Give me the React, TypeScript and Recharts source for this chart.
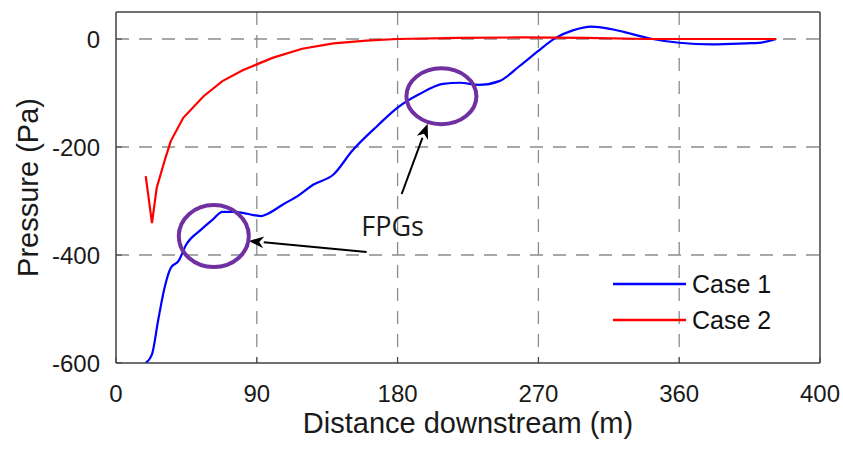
import React from "react";
import {
  LineChart, Line, XAxis, YAxis, CartesianGrid, ReferenceDot, ReferenceLine, Legend,
} from "recharts";

// Case 1 (blue) – distance (m) / pressure (Pa)
const case1X = [19, 23, 27, 31, 35, 40, 45, 54, 62, 68, 75, 81, 88, 93, 96, 107, 117, 126, 139, 151, 167, 180, 194, 209, 220, 232, 245, 258, 270, 281, 292, 304, 317, 330, 343, 360, 381, 403, 411, 422];
const case1Y = [-600, -584, -520, -461, -424, -411, -380, -354, -334, -320, -320, -322, -326, -328, -325, -306, -289, -270, -251, -207, -161, -127, -102, -83, -81, -85, -78, -50, -22, 2, 16, 23, 18, 9, 0, -7, -10, -8, -7, 0];

// Case 2 (red)
const case2X = [19, 23, 26, 31, 35, 43, 56, 68, 81, 90, 100, 119, 139, 160, 180, 220, 260, 300, 340, 380, 422];
const case2Y = [-254, -341, -276, -226, -189, -146, -106, -78, -58, -47, -35, -18, -8, -3, 0, 2, 3, 2, 0, 0, 0];

const xTicks = [0, 90, 180, 270, 360, 450];
const xTickLabels = ["0", "90", "180", "270", "360", "400"];
const yTicks = [-600, -400, -200, 0];
const xGrid = [90, 180, 270, 360];
const yGrid = [-400, -200, 0];

const seriesNames = ["Case 1", "Case 2"];
const seriesColors = ["#0000FF", "#FF0000"];

// annotations (data coordinates)
const circleCentres = [
  { x: 62.5, y: -365, rx: 35, ry: 31 },
  { x: 208, y: -106, rx: 35, ry: 28 },
];
const arrowSegments = [
  [{ x: 160.2, y: -394.5 }, { x: 84.9, y: -374 }],
  [{ x: 182.6, y: -287 }, { x: 199.2, y: -157 }],
];
const noteLabel = { x: 176.8, y: -346, text: "FPGs" };

const case1 = case1X.map((x, i) => ({ x, y: case1Y[i] }));
const case2 = case2X.map((x, i) => ({ x, y: case2Y[i] }));

const FONT = "'Liberation Sans', Arial, sans-serif";
const FRAME = "#404040";

// eslint-disable-next-line @typescript-eslint/no-explicit-any
function Arrow(props: any) {
  const { x1, y1, x2, y2 } = props;
  const ang = Math.atan2(y2 - y1, x2 - x1);
  const len = 15;
  const half = 6;
  const bx = x2 - len * Math.cos(ang);
  const by = y2 - len * Math.sin(ang);
  const px = -Math.sin(ang) * half;
  const py = Math.cos(ang) * half;
  return (
    <g>
      <line x1={x1} y1={y1} x2={bx} y2={by} stroke="#000" strokeWidth={2} />
      <polygon
        points={`${x2},${y2} ${bx + px},${by + py} ${bx + len * 0.3 * Math.cos(ang)},${by + len * 0.3 * Math.sin(ang)} ${bx - px},${by - py}`}
        fill="#000"
      />
    </g>
  );
}

function LegendBox() {
  return (
    <div style={{ fontFamily: FONT }}>
      {seriesNames.map((name, i) => (
        <div key={name} style={{ display: "flex", alignItems: "center", height: 36 }}>
          <svg width={73} height={4} style={{ marginRight: 6 }}>
            <line x1={0} y1={2} x2={73} y2={2} stroke={seriesColors[i]} strokeWidth={2.5} />
          </svg>
          <span style={{ fontSize: 25, color: "#111", lineHeight: 1 }}>{name}</span>
        </div>
      ))}
    </div>
  );
}

export default function App() {
  return (
    <div style={{ position: "absolute", left: 0, top: 0, width: 843, height: 450, background: "#fff" }}>
      <LineChart width={843} height={450} margin={{ top: 11, right: 22, bottom: 0, left: 0 }}>
        <CartesianGrid
          stroke="#8c8c8c"
          strokeWidth={1.3}
          strokeDasharray="13 10"
          horizontalValues={yGrid}
          verticalValues={xGrid}
        />
        <XAxis
          dataKey="x"
          type="number"
          domain={[0, 450]}
          ticks={xTicks}
          interval={0}
          allowDataOverflow
          height={87}
          tickSize={-6}
          tickMargin={28}
          tickFormatter={(v: number) => xTickLabels[xTicks.indexOf(v)]}
          axisLine={{ stroke: FRAME, strokeWidth: 1.5 }}
          tickLine={{ stroke: FRAME }}
          tick={{ fontSize: 24, fill: "#1a1a1a", fontFamily: FONT }}
          label={{ value: "Distance downstream (m)", position: "center", dy: 16, fontSize: 29, fill: "#1a1a1a", fontFamily: FONT }}
        />
        <XAxis
          xAxisId="top"
          orientation="top"
          type="number"
          domain={[0, 450]}
          ticks={xTicks}
          interval={0}
          height={1}
          tickSize={-6}
          tickFormatter={() => ""}
          axisLine={{ stroke: FRAME, strokeWidth: 1.5 }}
          tickLine={{ stroke: FRAME }}
        />
        <YAxis
          type="number"
          domain={[-600, 50]}
          ticks={yTicks}
          interval={0}
          allowDataOverflow
          width={116}
          tickSize={-6}
          tickMargin={22}
          axisLine={{ stroke: FRAME, strokeWidth: 1.5 }}
          tickLine={{ stroke: FRAME }}
          tick={{ fontSize: 24, fill: "#1a1a1a", fontFamily: FONT }}
          label={{ value: "Pressure (Pa)", angle: -90, position: "center", dx: -30, fontSize: 29, fill: "#1a1a1a", fontFamily: FONT }}
        />
        <YAxis
          yAxisId="right"
          orientation="right"
          type="number"
          domain={[-600, 50]}
          ticks={yTicks}
          interval={0}
          width={1}
          tickSize={-6}
          tickFormatter={() => ""}
          axisLine={{ stroke: FRAME, strokeWidth: 1.5 }}
          tickLine={{ stroke: FRAME }}
        />
        <Line
          data={case1}
          dataKey="y"
          name={seriesNames[0]}
          type="monotone"
          stroke={seriesColors[0]}
          strokeWidth={2.2}
          dot={false}
          activeDot={false}
          isAnimationActive={false}
        />
        <Line
          data={case2}
          dataKey="y"
          name={seriesNames[1]}
          type="linear"
          stroke={seriesColors[1]}
          strokeWidth={2.2}
          dot={false}
          activeDot={false}
          isAnimationActive={false}
        />
        {circleCentres.map((c, i) => (
          <ReferenceDot
            key={`c${i}`}
            x={c.x}
            y={c.y}
            r={1}
            shape={(p: any) => (
              <ellipse cx={p.cx} cy={p.cy} rx={c.rx} ry={c.ry} fill="none" stroke="#7030A0" strokeWidth={4} />
            )}
          />
        ))}
        {arrowSegments.map((s, i) => (
          <ReferenceLine key={`a${i}`} segment={s} shape={(p: any) => <Arrow {...p} />} />
        ))}
        <ReferenceDot
          x={noteLabel.x}
          y={noteLabel.y}
          r={1}
          shape={(p: any) => (
            <text
              x={p.cx}
              y={p.cy}
              textAnchor="middle"
              dominantBaseline="central"
              fontSize={27}
              fontFamily="'Open Sans', sans-serif"
              fill="#1a1a1a"
            >
              {noteLabel.text}
            </text>
          )}
        />
        <Legend
          layout="vertical"
          align="center"
          verticalAlign="middle"
          wrapperStyle={{ position: "absolute", left: 613, top: 266, width: 200 }}
          content={() => <LegendBox />}
        />
      </LineChart>
    </div>
  );
}
